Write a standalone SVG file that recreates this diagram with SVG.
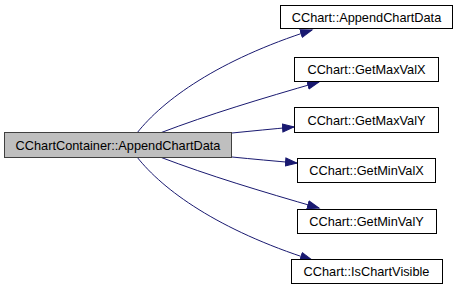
<svg xmlns="http://www.w3.org/2000/svg" width="459" height="291" viewBox="0 0 459 291">
  <style>
    .node rect { fill: #ffffff; stroke: #000000; stroke-width: 1; }
    .node.root rect { fill: #bfbfbf; stroke: #404040; }
    .node text { font-family: "Liberation Sans", Arial, sans-serif; font-size: 12.75px; fill: #000000; text-anchor: middle; }
    .edge { fill: none; stroke: #191970; stroke-width: 1; marker-end: url(#arrow); }
  </style>
  <defs>
    <marker id="arrow" markerUnits="userSpaceOnUse" markerWidth="14" markerHeight="10" refX="12" refY="5" orient="auto">
      <path d="M0.5,1 L12,5 L0.5,9 z" fill="#191970" stroke="#191970" stroke-width="1"/>
    </marker>
  </defs>
  <rect width="459" height="291" fill="#ffffff"/>

  <!-- call edges -->
  <g id="edges">
    <path class="edge" d="M137,133 C163,100 218,60 312,30"/>
    <path class="edge" d="M160,133 C210,114 260,99 319,82"/>
    <path class="edge" d="M232,133 C252,131 272,129 294,127"/>
    <path class="edge" d="M232,157 C252,159 274,161 297,163"/>
    <path class="edge" d="M160,157 C210,176 260,191 319,208"/>
    <path class="edge" d="M137,157 C163,190 218,230 312,260"/>
  </g>

  <g id="node-root" class="node root">
    <rect x="4.5" y="132.5" width="227" height="25"/>
    <text x="118" y="149.5">CChartContainer::AppendChartData</text>
  </g>
  <g id="node-appendchartdata" class="node">
    <rect x="280.5" y="5.5" width="172" height="23"/>
    <text x="366.5" y="21.5">CChart::AppendChartData</text>
  </g>
  <g id="node-getmaxvalx" class="node">
    <rect x="294.5" y="57.5" width="144" height="24"/>
    <text x="366.5" y="74">CChart::GetMaxValX</text>
  </g>
  <g id="node-getmaxvaly" class="node">
    <rect x="294.5" y="107.5" width="144" height="25"/>
    <text x="366.5" y="124.5">CChart::GetMaxValY</text>
  </g>
  <g id="node-getminvalx" class="node">
    <rect x="297.5" y="158.5" width="138" height="24"/>
    <text x="366.5" y="175">CChart::GetMinValX</text>
  </g>
  <g id="node-getminvaly" class="node">
    <rect x="297.5" y="209.5" width="139" height="24"/>
    <text x="366.5" y="226">CChart::GetMinValY</text>
  </g>
  <g id="node-ischartvisible" class="node">
    <rect x="291.5" y="259.5" width="151" height="24"/>
    <text x="366.5" y="276">CChart::IsChartVisible</text>
  </g>
</svg>
